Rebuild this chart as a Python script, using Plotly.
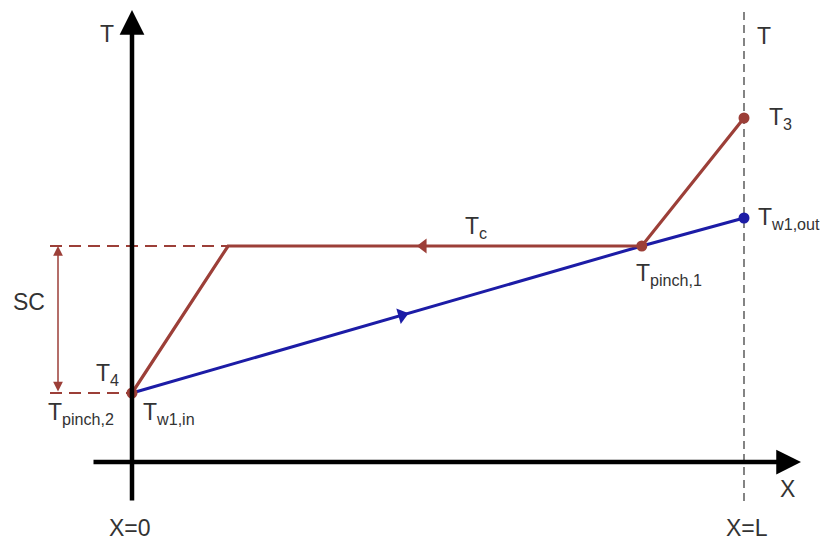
import plotly.graph_objects as go
import numpy as np

# ---- data (schematic temperature profile along the exchanger) ----
x_refrig = [0.0, 0.157, 0.833, 1.0]      # X positions of refrigerant profile
t_refrig = [6.9, 21.6, 21.6, 34.4]       # T4, Tc (start), Tpinch,1, T3
x_water = [0.0, 0.833, 1.0]              # X positions of water profile
t_water = [6.9, 21.6, 24.4]              # Tw1,in, Tpinch,1, Tw1,out
x_ticks = [0.0, 1.0]
x_tick_labels = ["X=0", "X=L"]

RED = "#9c3f38"
BLUE = "#1c1ca6"
TXT = "#333333"
FONT = "Liberation Sans, Arial, sans-serif"

def px_x(p):
    return (p - 132) / 612.0

def px_t(p):
    return (462 - p) / 10.0

fig = go.Figure()

# dashed vertical line at X=L
fig.add_trace(go.Scatter(x=[x_ticks[1], x_ticks[1]], y=[px_t(12), px_t(502)], mode="lines",
                         line=dict(color="#333333", width=1.2, dash="8px,5px"), hoverinfo="skip"))

# dashed horizontal guide lines for SC
fig.add_trace(go.Scatter(x=[px_x(50), x_refrig[1]], y=[t_refrig[1], t_refrig[1]], mode="lines",
                         line=dict(color=RED, width=1.8, dash="12px,7px"), hoverinfo="skip"))
fig.add_trace(go.Scatter(x=[px_x(50), x_refrig[0]], y=[t_refrig[0], t_refrig[0]], mode="lines",
                         line=dict(color=RED, width=1.8, dash="12px,7px"), hoverinfo="skip"))

# water line (blue)
fig.add_trace(go.Scatter(x=x_water, y=t_water, mode="lines",
                         line=dict(color=BLUE, width=3), hoverinfo="skip"))
# refrigerant line (red)
fig.add_trace(go.Scatter(x=x_refrig, y=t_refrig, mode="lines",
                         line=dict(color=RED, width=3.2), hoverinfo="skip"))

# flow direction arrows
xb = 0.441
tb = float(np.interp(xb, x_water, t_water))
fig.add_trace(go.Scatter(x=[xb], y=[tb], mode="markers",
                         marker=dict(symbol="triangle-right", size=14, color=BLUE, angle=-16),
                         hoverinfo="skip"))
fig.add_trace(go.Scatter(x=[0.476], y=[t_refrig[1]], mode="markers",
                         marker=dict(symbol="triangle-left", size=13, color=RED),
                         hoverinfo="skip"))

# points
fig.add_trace(go.Scatter(x=[x_water[2]], y=[t_water[2]], mode="markers",
                         marker=dict(size=11, color=BLUE), hoverinfo="skip"))
fig.add_trace(go.Scatter(x=[x_refrig[0], x_refrig[2], x_refrig[3]],
                         y=[t_refrig[0], t_refrig[2], t_refrig[3]], mode="markers",
                         marker=dict(size=11, color=RED), hoverinfo="skip"))

ann = []
# axes as arrows
ann.append(dict(x=0, y=px_t(10), ax=0, ay=px_t(502), xref="x", yref="y", axref="x", ayref="y",
                showarrow=True, arrowhead=2, arrowsize=1.1, arrowwidth=4.5, arrowcolor="black",
                text="", standoff=0, startstandoff=0))
ann.append(dict(x=px_x(801), y=0, ax=px_x(92), ay=0, xref="x", yref="y", axref="x", ayref="y",
                showarrow=True, arrowhead=2, arrowsize=1.1, arrowwidth=4.5, arrowcolor="black",
                text="", standoff=0, startstandoff=0))
# SC double arrow
ann.append(dict(x=px_x(58), y=t_refrig[1], ax=px_x(58), ay=t_refrig[0], xref="x", yref="y",
                axref="x", ayref="y", showarrow=True, arrowhead=2, startarrowhead=2,
                arrowside="end+start", arrowsize=1.3, startarrowsize=1.3, arrowwidth=1.5,
                arrowcolor=RED, text="", standoff=0, startstandoff=0))

def label(text, x, y, xanchor="center", size=23):
    ann.append(dict(x=x, y=y, xref="x", yref="y", text=text, showarrow=False,
                    xanchor=xanchor, yanchor="middle",
                    font=dict(family=FONT, size=size, color=TXT)))

label("T", px_x(107), px_t(34))
label("T", px_x(764), px_t(36))
label("T<sub>3</sub>", px_x(767), t_refrig[3], xanchor="left")
label("T<sub>w1,out</sub>", px_x(756), t_water[2], xanchor="left")
label("T<sub>pinch,1</sub>", px_x(634), px_t(274), xanchor="left")
label("T<sub>c</sub>", px_x(476), px_t(227))
label("T<sub>4</sub>", px_x(121), px_t(374), xanchor="right")
label("T<sub>pinch,2</sub>", px_x(116), px_t(413), xanchor="right")
label("T<sub>w1,in</sub>", px_x(141), px_t(413), xanchor="left")
label("SC", px_x(29), px_t(302))
label("X", px_x(787), px_t(489))
label(x_tick_labels[0], x_ticks[0] + px_x(130) - px_x(132), px_t(528))
label(x_tick_labels[1], x_ticks[1] + px_x(747) - px_x(744), px_t(528))

fig.update_layout(
    width=824, height=542,
    margin=dict(l=0, r=0, t=0, b=0),
    paper_bgcolor="white", plot_bgcolor="white",
    showlegend=False,
    xaxis=dict(range=[px_x(0), px_x(824)], visible=False),
    yaxis=dict(range=[px_t(542), px_t(0)], visible=False),
    annotations=ann,
)

fig.write_html("out.html")
